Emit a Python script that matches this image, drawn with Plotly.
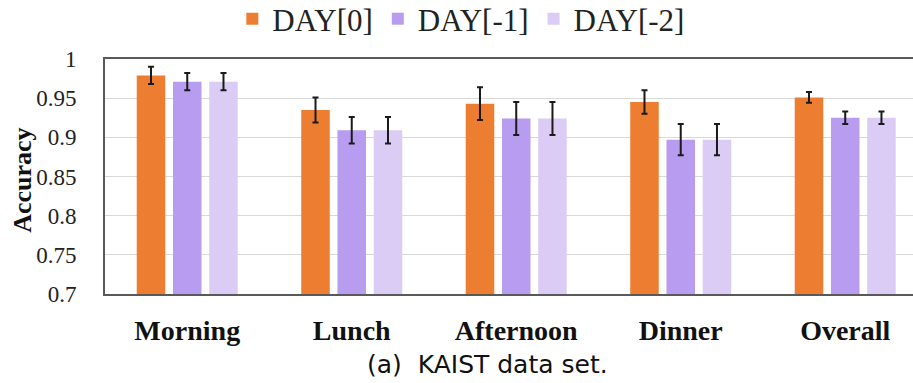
import plotly.graph_objects as go

categories = ["Morning", "Lunch", "Afternoon", "Dinner", "Overall"]
series_names = ["DAY[0]", "DAY[-1]", "DAY[-2]"]
day0 = [0.979, 0.935, 0.943, 0.945, 0.951]
day1 = [0.971, 0.909, 0.924, 0.897, 0.925]
day2 = [0.971, 0.909, 0.924, 0.897, 0.925]
err0 = [0.011, 0.016, 0.021, 0.015, 0.007]
err1 = [0.011, 0.017, 0.021, 0.020, 0.008]
err2 = [0.011, 0.017, 0.021, 0.020, 0.008]
colors = ["#ED7D31", "#B79CF0", "#DBCCF6"]

fig = go.Figure()
for name, vals, errs, col in zip(series_names, [day0, day1, day2], [err0, err1, err2], colors):
    fig.add_trace(go.Bar(
        name=name, x=categories, y=vals, marker_color=col, marker_line_width=0,
        error_y=dict(type="data", array=errs, visible=True, color="#1a1a1a",
                     thickness=2, width=3),
    ))

serif = "Liberation Serif"
fig.update_layout(
    width=913, height=383,
    margin=dict(l=105, r=0, t=59, b=89, autoexpand=False),
    paper_bgcolor="white", plot_bgcolor="white",
    barmode="group", bargap=0.339, bargroupgap=0.213,
    showlegend=True,
    legend=dict(orientation="h", x=0.441, xanchor="center", y=1.17, yanchor="middle",
                font=dict(family=serif, size=31, color="#222", weight="normal"),
                itemwidth=30, traceorder="normal"),
    xaxis=dict(range=[-0.5, 4.412], showline=True, mirror=True, linecolor="#595959",
               linewidth=2, showgrid=False, ticks="", ticklabelstandoff=10,
               tickfont=dict(family=serif, size=28, color="#111", weight="bold")),
    yaxis=dict(range=[0.7, 1.0], dtick=0.05, showline=True, linecolor="#595959",
               linewidth=2, gridcolor="#D9D9D9", gridwidth=1, zeroline=False,
               ticks="", ticklabelstandoff=22,
               tickfont=dict(family=serif, size=23, color="#222", weight="normal")),
    annotations=[
        dict(text="Accuracy", xref="paper", yref="paper", x=-0.103, y=0.485,
             xanchor="center", yanchor="middle", textangle=-90, showarrow=False,
             font=dict(family=serif, size=26, color="#111", weight="bold")),
        dict(text="(a)  KAIST data set.", xref="paper", yref="paper",
             x=0.474, y=-0.302, xanchor="center", yanchor="middle",
             showarrow=False,
             font=dict(family="DejaVu Sans", size=25, color="#111")),
    ],
)

fig.write_html("out.html")
